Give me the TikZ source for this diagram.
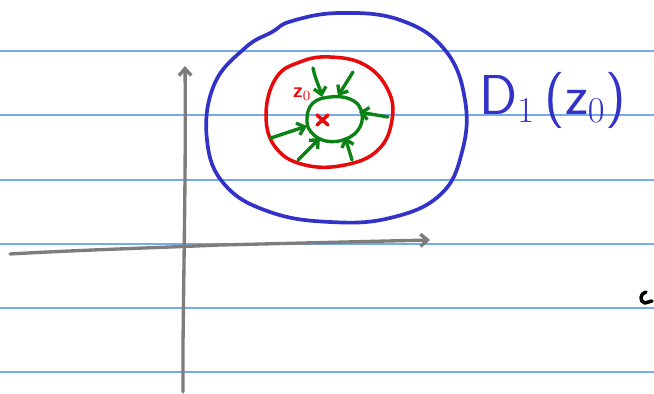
\documentclass[tikz,border=0pt]{standalone}
\usetikzlibrary{arrows.meta}
\begin{document}
\begin{tikzpicture}[x=0.02cm,y=-0.02cm,line cap=round,line join=round,
  rule/.style={draw={rgb,255:red,120;green,170;blue,235},line width=0.6pt},
  axis/.style={draw={rgb,255:red,125;green,125;blue,125},line width=1.9pt},
  bluepen/.style={draw={rgb,255:red,50;green,50;blue,200},line width=2.1pt},
  redpen/.style={draw={rgb,255:red,230;green,10;blue,10},line width=2pt},
  greenpen/.style={draw={rgb,255:red,10;green,130;blue,20},line width=1.9pt},
  barb/.style={-{Straight Barb[length=4pt,width=7pt]}}]
\useasboundingbox (0,0) rectangle (654,394);
\fill[white] (0,0) rectangle (654,394);
% ruled lines
\foreach \y in {51,115,180,244,308,372} \draw[rule] (0,\y) -- (654,\y);
% axes
\draw[axis,barb] (10,254) .. controls (80,250) and (150,248) .. (220,245) -- (430,240);
\draw[axis,barb] (183,392) -- (183,345) .. controls (184,250) and (186,150) .. (185,66);
% big blue disc
\draw[bluepen] plot[smooth cycle,tension=0.7] coordinates {(207,140) (214,85) (245,48) (272,32) (292,21) (340,13) (400,20) (445,50) (465,100) (462,152) (440,195) (390,218) (330,222) (270,212) (225,185)};
% red circle
\draw[redpen] plot[smooth cycle,tension=0.7] coordinates {(266,115) (276,78) (300,62) (330,57) (365,65) (388,90) (392,120) (378,150) (345,165) (305,165) (276,148)};
% green small circle
\draw[greenpen] plot[smooth cycle,tension=0.7] coordinates {(307,118) (313,103) (330,97) (350,99) (361,110) (360,127) (346,139) (326,141) (311,132)};
% green arrows
\draw[greenpen,barb] (313,68) .. controls (316,82) and (320,88) .. (322,97);
\draw[greenpen,barb] (353,72) -- (338,96);
\draw[greenpen,barb] (388,117) -- (359,112);
\draw[greenpen,barb] (271,138) -- (307,126);
\draw[greenpen,barb] (298,160) -- (320,138);
\draw[greenpen,barb] (352,160) -- (345,137);
% centre cross
\draw[redpen] (317,115) -- (328,125) (328,115) -- (317,125);
% z0 label
\node[text={rgb,255:red,230;green,10;blue,10},font=\sffamily\bfseries\large] (zlab) at (302,94) {z$_0$};
% D1(z0)
\node[text={rgb,255:red,50;green,50;blue,200},font=\sffamily\fontsize{32}{34}\selectfont,anchor=west,inner sep=0pt] (dlab) at (479,100) {D$_1$\,(z$_0$)};
% stray mark at right edge
\draw[line width=2pt] (646,292) .. controls (640,293) and (639,302) .. (645,303) -- (652,301);
\end{tikzpicture}
\end{document}
